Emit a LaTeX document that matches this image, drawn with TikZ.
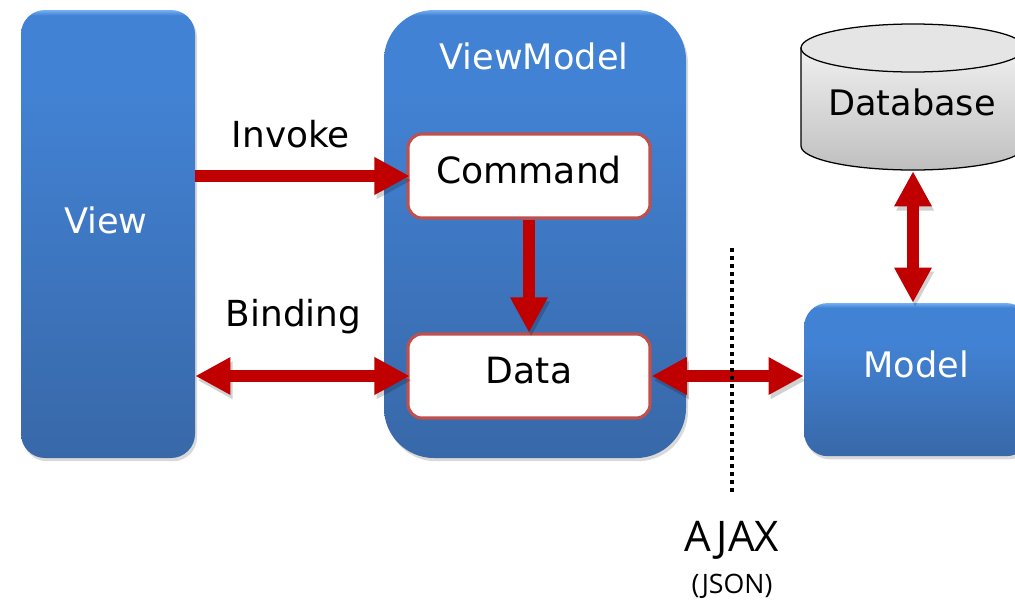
\documentclass[tikz,border=0pt]{standalone}
\usepackage{fontspec}
\setmainfont{DejaVu Sans}
\newfontfamily\notefont{Open Sans}
\usepackage{xcolor}
\usetikzlibrary{arrows.meta,calc,shadows}
\definecolor{boxtop}{HTML}{4282D4}
\definecolor{boxglow}{HTML}{74B0F2}
\definecolor{boxlow}{HTML}{3868A8}
\definecolor{flow}{HTML}{C00000}
\definecolor{edge}{HTML}{C0504D}
\pgfdeclareverticalshading{tallbox}{100bp}{color(0bp)=(boxlow); color(25bp)=(boxlow); color(66bp)=(boxtop); color(74.4bp)=(boxtop); color(75bp)=(boxglow); color(100bp)=(boxglow)}
\pgfdeclareverticalshading{lowbox}{100bp}{color(0bp)=(boxlow); color(25bp)=(boxlow); color(62bp)=(boxtop); color(73.5bp)=(boxtop); color(75bp)=(boxglow); color(100bp)=(boxglow)}
\tikzset{
  softshadow/.style={drop shadow={opacity=0.3, shadow xshift=0.05, shadow yshift=-0.08}},
  bluebox/.style={shading=tallbox, softshadow},
  inbox/.style={draw=edge, line width=2.2pt, fill=white, rounded corners=0.35cm, minimum width=6.05cm, minimum height=2.1cm, text height=0.65cm, text depth=0.27cm, font=\fontsize{25.7}{30}\selectfont},
  boxname/.style={text=white, font=\fontsize{25}{30}\selectfont},
  flowname/.style={text=black, font=\fontsize{25.5}{30}\selectfont},
  flowarr/.style={draw=flow, line width=0.3cm,
    preaction={draw=black, opacity=0.18, transform canvas={xshift=1.5pt, yshift=-3pt}},
    -{Triangle[length=0.88cm, width=0.88cm, fill=flow]}},
  flowboth/.style={flowarr, {Triangle[length=0.88cm, width=0.88cm, fill=flow]}-{Triangle[length=0.88cm, width=0.88cm, fill=flow]}},
  dbline/.style={draw=black, line width=0.9pt}
}
\begin{document}
\begin{tikzpicture}
  \useasboundingbox (0,0) rectangle (25.375,-15);
  % Outer boxes
  \node[bluebox, rounded corners=0.6cm, minimum width=4.35cm, minimum height=11.2cm] (view) at (2.7,-5.85) {};
  \node[bluebox, rounded corners=1.25cm, minimum width=7.55cm, minimum height=11.2cm] (viewmodel) at (13.375,-5.85) {};
  \node[bluebox, shading=lowbox, rounded corners=0.6cm, minimum width=5.65cm, minimum height=3.83cm] (model) at (22.925,-9.49) {};

  \node[boxname] (viewname) at (2.65,-5.5) {View};
  \node[boxname] (vmname) at (13.35,-1.4) {ViewModel};
  \node[boxname] (modelname) at (22.9,-9.1) {Model};

  % Inner boxes
  \node[inbox] (command) at (13.225,-4.4) {Command};
  \node[inbox] (data) at (13.225,-9.4) {Data};

  % Database
  \draw[dbline, top color=gray!12, bottom color=gray!50] (20.025,-1.2) -- (20.025,-3.65)
    arc[start angle=180, end angle=360, x radius=2.8, y radius=0.6] -- (25.625,-1.2) -- cycle;
  \draw[dbline, fill=gray!20] (22.825,-1.2) ellipse (2.8 and 0.6);
  \node[text=black, font=\fontsize{25}{30}\selectfont] (db) at (22.8,-2.55) {Database};
  \coordinate (dbfoot) at (22.825,-4.28);

  % Flows
  \draw[flowarr, shorten >=-0.08cm] (view.east |- command.west) -- (command.west);
  \draw[flowboth, shorten >=-0.08cm] (view.east |- data.west) -- (data.west);
  \draw[flowarr] (command.south) -- (data.north);
  \draw[flowboth] (data.east) -- (model.west |- data.east);
  \draw[flowboth] (dbfoot) -- (dbfoot |- model.north);

  \node[flowname] (invoke) at (7.27,-3.35) {Invoke};
  \node[flowname] (binding) at (7.34,-7.92) {Binding};

  % AJAX boundary
  \coordinate (linetop) at (18.3,-6.2);
  \coordinate (linelow) at (18.3,-12.4);
  \draw[black, line width=0.1cm, dash pattern=on 0.1cm off 0.1cm] (linetop) -- (linelow);
  \node[font=\notefont\fontsize{30}{36}\selectfont, text=black] (ajax) at (18.3,-13.5) {AJAX};
  \node[font=\notefont\fontsize{19}{22}\selectfont, text=black] (json) at (18.3,-14.65) {(JSON)};
\end{tikzpicture}
\end{document}
